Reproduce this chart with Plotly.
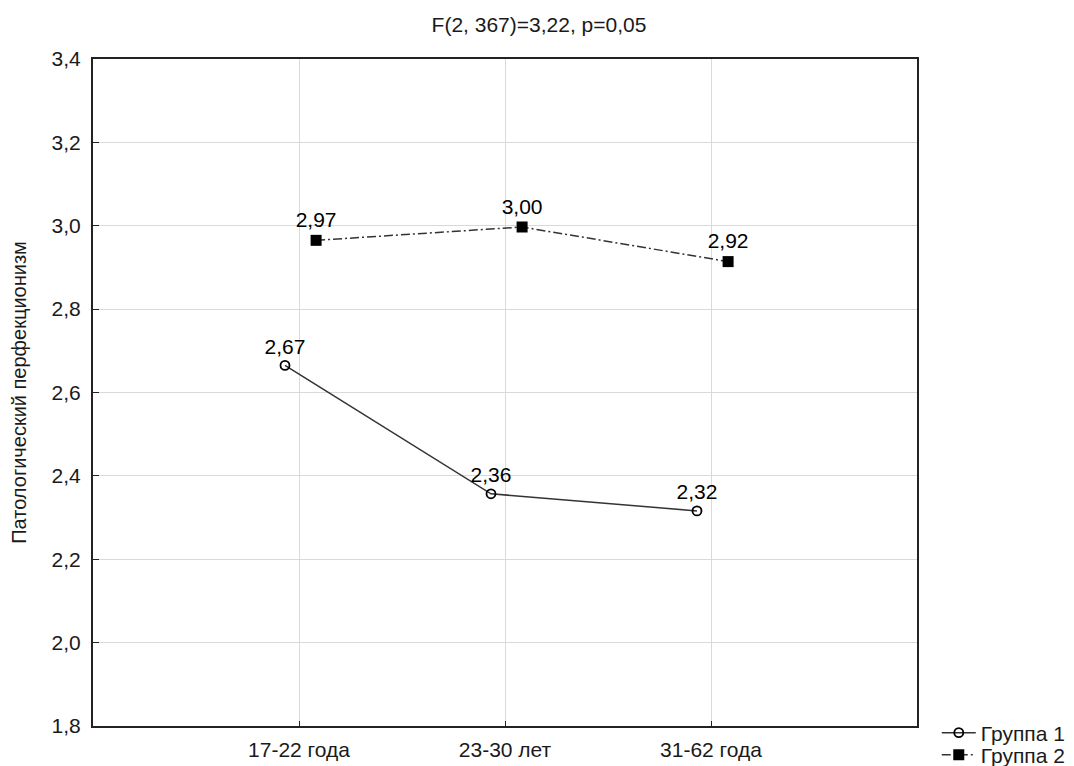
import plotly.graph_objects as go

categories = ["17-22 года", "23-30 лет", "31-62 года"]
group1_name = "Группа 1"
group2_name = "Группа 2"
group1_values = [2.665, 2.357, 2.316]
group2_values = [2.965, 2.997, 2.914]
group1_labels = ["2,67", "2,36", "2,32"]
group2_labels = ["2,97", "3,00", "2,92"]
title_text = "F(2, 367)=3,22, p=0,05"
y_title = "Патологический перфекционизм"
y_ticks = [1.8, 2.0, 2.2, 2.4, 2.6, 2.8, 3.0, 3.2, 3.4]

FONT = "Liberation Sans, Arial, sans-serif"
FS = 21
TXT = "#1a1a1a"
off1, off2 = -0.068, 0.083
xpos = list(range(1, len(categories) + 1))

fig = go.Figure()
fig.add_trace(go.Scatter(
    x=[p + off1 for p in xpos], y=group1_values, name=group1_name,
    mode="lines+markers+text", text=group1_labels, textposition="top center",
    textfont=dict(family=FONT, size=FS, color="black"),
    line=dict(color="#333333", width=1.5),
    marker=dict(symbol="circle-open", size=9, color="black", line=dict(width=1.8, color="black")),
    cliponaxis=False, legend="legend",
))
fig.add_trace(go.Scatter(
    x=[p + off2 for p in xpos], y=group2_values, name=group2_name,
    mode="lines+markers+text", text=group2_labels, textposition="top center",
    textfont=dict(family=FONT, size=FS, color="black"),
    line=dict(color="#333333", width=1.5, dash="9px,3px,2px,3px"),
    marker=dict(symbol="square", size=11, color="black"),
    cliponaxis=False, legend="legend2",
))

leg_common = dict(x=1.024, xanchor="left", yanchor="middle",
                  bgcolor="rgba(0,0,0,0)", font=dict(family=FONT, size=FS, color=TXT),
                  itemwidth=34, borderwidth=0)

fig.update_layout(
    width=1074, height=766,
    margin=dict(l=93, r=157, t=59, b=40, autoexpand=False),
    paper_bgcolor="white", plot_bgcolor="white",
    separators=", ",
    font=dict(family=FONT, size=FS, color=TXT),
    title=dict(text=title_text, x=539 / 1074, xref="container", xanchor="center",
               y=1 - 25 / 766, yref="container", yanchor="middle",
               font=dict(family=FONT, size=FS, color=TXT)),
    showlegend=True,
    legend=dict(y=-0.0105, **leg_common),
    legend2=dict(y=-0.0435, **leg_common),
)
fig.update_xaxes(
    range=[0, len(categories) + 1], tickvals=xpos, ticktext=categories,
    showgrid=True, gridcolor="#d9d9d9", gridwidth=1,
    showline=True, linecolor="#222222", linewidth=2, mirror=True,
    ticks="inside", ticklen=5, tickcolor="#222222", zeroline=False,
    ticklabelstandoff=4,
    tickfont=dict(family=FONT, size=FS, color=TXT),
)
fig.update_yaxes(
    range=[1.8, 3.4], tickvals=y_ticks, tickformat=".1f",
    showgrid=True, gridcolor="#d9d9d9", gridwidth=1,
    showline=True, linecolor="#222222", linewidth=2, mirror=True,
    ticks="inside", ticklen=6, tickcolor="#222222", zeroline=False,
    ticklabelstandoff=6,
    title=dict(text=y_title, font=dict(family=FONT, size=FS - 1, color=TXT), standoff=20),
    tickfont=dict(family=FONT, size=FS, color=TXT),
)

fig.write_html("out.html")
